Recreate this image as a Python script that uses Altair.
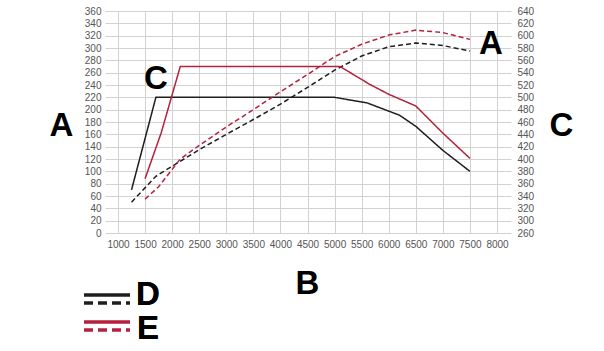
import altair as alt
import pandas as pd

# ---- data ----
x_ticks = [1000, 1500, 2000, 2500, 3000, 3500, 4000, 4500, 5000, 5500, 6000, 6500, 7000, 7500, 8000]
y_ticks = list(range(0, 361, 20))

rpm_d_solid = [1250, 1700, 5000, 5600, 6200, 6500, 7000, 7500]
val_d_solid = [70, 220, 220, 211, 191, 173, 134, 100]

rpm_d_dashed = [1250, 1700, 2050, 2500, 3000, 3500, 4000, 4500, 5000, 5500, 6000, 6500, 7000, 7500]
val_d_dashed = [50, 92, 111, 135, 160, 184, 209, 236, 264, 287, 302, 308, 304, 295]

rpm_e_solid = [1500, 1800, 2150, 5100, 5650, 6000, 6500, 7000, 7500]
val_e_solid = [88, 163, 270, 270, 241, 225, 206, 162, 121]

rpm_e_dashed = [1500, 1750, 2150, 2500, 3000, 3500, 4000, 4500, 5000, 5500, 6000, 6500, 7000, 7500]
val_e_dashed = [55, 75, 120, 142, 172, 200, 229, 257, 286, 306, 321, 329, 325, 314]

series = ["D solid", "D dashed", "E solid", "E dashed"]
series_colors = ["#1e1e1e", "#1e1e1e", "#b5203e", "#b5203e"]
series_dash = [[1, 0], [5, 3], [1, 0], [5, 3]]

annot_text = ["A", "C"]
annot_rpm = [7890, 1702]
annot_val = [306, 249]

rows = []
for name, xs, ys in zip(series,
                        [rpm_d_solid, rpm_d_dashed, rpm_e_solid, rpm_e_dashed],
                        [val_d_solid, val_d_dashed, val_e_solid, val_e_dashed]):
    for i, (a, b) in enumerate(zip(xs, ys)):
        rows.append({"series": name, "rpm": a, "val": b, "order": i})
df = pd.DataFrame(rows)
ann = pd.DataFrame({"t": annot_text, "rpm": annot_rpm, "val": annot_val})

W, H = 379, 222
GRID = "#d2d2d2"
LAB = "#555555"
LFONT = "Liberation Sans"
BIG = 33

x_enc = alt.X(
    "rpm:Q",
    scale=alt.Scale(domain=[1000, 8000], nice=False, zero=False),
    axis=alt.Axis(values=x_ticks, format="d", grid=True, gridColor=GRID, gridWidth=1, domain=False,
                  ticks=False, labelPadding=6, labelFont=LFONT, labelFontSize=10,
                  labelColor=LAB, labelFlush=False, labelOverlap=False,
                  title="B", titleFont=LFONT, titleFontSize=BIG, titleFontWeight="bold",
                  titleColor="#000", titleX=189, titleY=50, titleAlign="center",
                  titleBaseline="middle"),
)
y_enc = alt.Y(
    "val:Q", scale=alt.Scale(domain=[0, 360], nice=False, zero=False),
    axis=alt.Axis(values=y_ticks, format="d", grid=True, gridColor=GRID, gridWidth=1, domain=False,
                  ticks=True, tickSize=13, tickColor=GRID, labelPadding=4, labelFont=LFONT,
                  labelFontSize=10, labelColor=LAB, labelFlush=False, labelOverlap=False,
                  title="A", titleFont=LFONT, titleFontSize=BIG, titleFontWeight="bold",
                  titleColor="#000", titleAngle=0, titleX=-57, titleY=114,
                  titleAlign="center", titleBaseline="middle"),
)

lines = alt.Chart(df).mark_line(strokeWidth=1.5).encode(
    x=x_enc,
    y=y_enc,
    order="order:Q",
    detail="series:N",
    color=alt.Color("series:N", scale=alt.Scale(domain=series, range=series_colors), legend=None),
    strokeDash=alt.StrokeDash("series:N", scale=alt.Scale(domain=series, range=series_dash), legend=None),
)

annots = alt.Chart(ann).mark_text(font=LFONT, fontSize=BIG, fontWeight="bold", color="#000",
                                  align="center", baseline="middle").encode(
    x=x_enc, y=y_enc, text="t:N")

# custom legend
leg_y = [284, 292, 311, 319]
leg_cols = ["#1e1e1e", "#1e1e1e", "#b5203e", "#b5203e"]
leg_dash = [[1, 0], [9, 5], [1, 0], [9, 5]]
leg_layers = []
for yy, cc, dd in zip(leg_y, leg_cols, leg_dash):
    leg_layers.append(
        alt.Chart(ann).mark_rule(color=cc, strokeWidth=3, strokeDash=dd).encode(
            x=alt.value(-34), x2=alt.value(12), y=alt.value(yy))
    )
leg_text_labels = ["D", "E"]
leg_text_y = [284, 318]
for tt, yy in zip(leg_text_labels, leg_text_y):
    leg_layers.append(
        alt.Chart(ann).mark_text(text=tt, font=LFONT, fontSize=BIG, fontWeight="bold",
                                 color="#000", align="center", baseline="middle").encode(
            x=alt.value(30), y=alt.value(yy))
    )

inner = alt.layer(lines, annots, *leg_layers)

right = alt.Chart(df).mark_line(opacity=0).encode(
    x=x_enc,
    y=alt.Y("val:Q", scale=alt.Scale(domain=[0, 360], nice=False, zero=False),
            axis=alt.Axis(orient="right", values=y_ticks, grid=False, domain=False,
                          ticks=True, tickSize=14, tickColor=GRID, labelPadding=6,
                          labelFont=LFONT, labelFontSize=10, labelColor=LAB,
                          labelFlush=False, labelOverlap=False,
                          labelExpr="datum.value == 0 ? '260' : '' + (datum.value + 280)",
                          title="C", titleFont=LFONT, titleFontSize=BIG,
                          titleFontWeight="bold", titleColor="#000", titleAngle=0,
                          titleX=64, titleY=114, titleAlign="center",
                          titleBaseline="middle")),
    detail="series:N",
)

chart = alt.layer(inner, right).resolve_scale(y="independent").properties(
    width=W, height=H,
    autosize=alt.AutoSizeParams(type="none"),
    padding={"left": 118, "top": 11, "right": 107, "bottom": 118},
    background="#ffffff",
).configure_view(stroke=None)

chart.save("out.html", embed_options={"renderer": "svg", "actions": False})
